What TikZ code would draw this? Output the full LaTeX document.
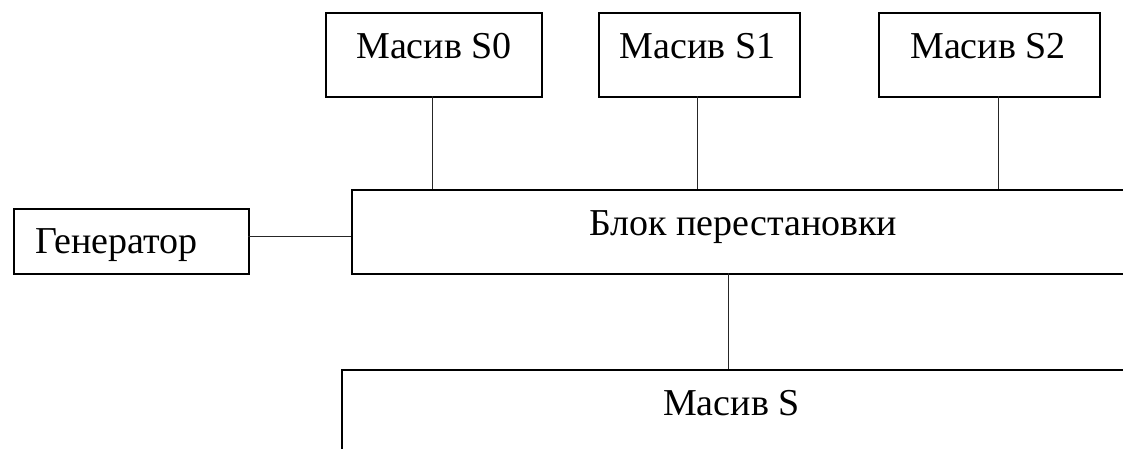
\documentclass[tikz,border=0pt]{standalone}
\usepackage{fontspec}
\setmainfont{Liberation Serif}
\begin{document}
\begin{tikzpicture}[x=1pt,y=-1pt,
  box/.style={draw=black, line width=2.2pt, rectangle, inner sep=0pt, anchor=north west},
  lbl/.style={inner sep=0pt, anchor=base, font=\fontsize{38}{45}\selectfont},
  lblw/.style={inner sep=0pt, anchor=base west, font=\fontsize{38}{45}\selectfont},
  wire/.style={draw=black!85, line width=1pt}]
\useasboundingbox (0,0) rectangle (1123,448);
\clip (0,0) rectangle (1123,448);
% array blocks along the top
\node[box, minimum width=216, minimum height=84] (s0) at (325,12) {};
\node[box, minimum width=201, minimum height=84] (s1) at (598,12) {};
\node[box, minimum width=221, minimum height=84] (s2) at (878,12) {};
\node[lbl] (s0t) at (434,58) {Масив S0};
\node[lbl] (s1t) at (697.5,58) {Масив S1};
\node[lbl] (s2t) at (988,58) {Масив S2};
% permutation block (runs past the right edge)
\node[box, minimum width=790, minimum height=84] (blok) at (351,189) {};
\node[lblw] (blokt) at (589,235) {Блок перестановки};
% generator
\node[box, minimum width=235, minimum height=65] (gen) at (13,208) {};
\node[lblw] (gent) at (35,253) {Генератор};
% output array (runs past the right and bottom edges)
\node[box, minimum width=800, minimum height=100] (ms) at (341,369) {};
\node[lblw] (mst) at (663,415) {Масив S};
% connectors
\draw[wire] (432,96) coordinate (c0) -- (c0 |- blok.north);
\draw[wire] (697,96) coordinate (c1) -- (c1 |- blok.north);
\draw[wire] (998,96) coordinate (c2) -- (c2 |- blok.north);
\draw[wire] (248,236) coordinate (cg) -- (cg -| blok.west);
\draw[wire] (728,273) coordinate (cb) -- (cb |- ms.north);
\end{tikzpicture}
\end{document}
